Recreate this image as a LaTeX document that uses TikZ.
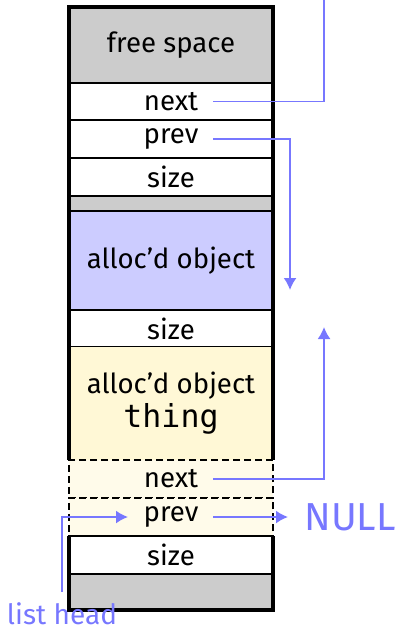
\documentclass[tikz,border=0pt]{standalone}
\usepackage{fontspec}
\setmainfont{Fira Sans}
\setmonofont{DejaVu Sans Mono}
\usepackage{tikz}
\usetikzlibrary{positioning, arrows.meta}
\definecolor{freegray}{RGB}{204,204,204}
\definecolor{allocblue}{RGB}{204,204,255}
\definecolor{thingyellow}{RGB}{255,248,214}
\definecolor{freeyellow}{RGB}{255,251,234}
\definecolor{ptrblue}{RGB}{119,119,255}
\tikzset{cell/.style={draw, line width=0.9pt, minimum width=102pt, inner sep=0pt, outer sep=0pt, font=\fontsize{13.8}{16}\selectfont}}
\tikzset{freecell/.style={cell, dash pattern=on 3.5pt off 2pt, fill=freeyellow}}
\tikzset{frame/.style={line width=1.8pt, line join=miter}}
\tikzset{pointer/.style={ptrblue, line width=0.9pt}}
\tikzset{pointer tip/.style={pointer, -{Latex[length=6pt, width=6.5pt]}}}

\begin{document}
\begin{tikzpicture}[x=0.5pt, y=-0.5pt]
\useasboundingbox (0,0) rectangle (396,630);
\node[cell, fill=freegray, minimum height=38pt, anchor=north] (freeA) at (171,7) {free space};
\node[cell, minimum height=18.5pt, below=0pt of freeA] (nextA) {next};
\node[cell, minimum height=19pt, below=0pt of nextA] (prevA) {prev};
\node[cell, minimum height=19pt, below=0pt of prevA] (sizeA) {size};
\node[cell, fill=freegray, minimum height=7.5pt, below=0pt of sizeA] (gapA) {};
\node[cell, fill=allocblue, minimum height=49.5pt, below=0pt of gapA] (allocA) {alloc'd object};
\node[cell, minimum height=18.5pt, below=0pt of allocA] (sizeB) {size};
\node[cell, draw=none, fill=thingyellow, minimum height=56.5pt, below=0pt of sizeB, align=center] (thing) {alloc'd object\\[1pt]{\ttfamily\fontsize{15.8}{18}\selectfont thing}};
\draw[line width=0.9pt, black!45] (thing.south west) -- ++(0,-76) (thing.south east) -- ++(0,-76);
\node[freecell, minimum height=19pt, below=0pt of thing] (nextB) {next};
\node[freecell, minimum height=19pt, below=0pt of nextB] (prevB) {prev};
\node[cell, minimum height=19pt, below=0pt of prevB] (sizeC) {size};
\node[cell, fill=freegray, minimum height=18pt, below=0pt of sizeC] (gapB) {};
\draw[frame] (nextB.north west) -- (freeA.north west) -- (freeA.north east) -- (nextB.north east);
\draw[frame] (prevB.south west) -- (gapB.south west) -- (gapB.south east) -- (prevB.south east);

\coordinate (nextA-out) at ([xshift=21pt]nextA.center);
\coordinate (prevA-out) at ([xshift=21pt]prevA.center);
\coordinate (nextB-out) at ([xshift=21pt]nextB.center);
\coordinate (prevB-out) at ([xshift=21pt]prevB.center);
\coordinate (prevB-in) at ([xshift=-21.5pt]prevB.center);
\coordinate (top-end) at (324,0);
\coordinate (allocA-in) at (290,290);
\coordinate (thing-in) at (324,327);
\node[ptrblue, font=\fontsize{19.5}{23}\selectfont, anchor=west, inner sep=0pt] (null) at (304,517) {NULL};
\node[ptrblue, font=\fontsize{14}{16}\selectfont, inner sep=0pt, anchor=base] (head) at (62,624) {list head};
\coordinate (head-top) at ([yshift=5pt]head.north);

\draw[pointer] (nextA-out) -| (top-end);
\draw[pointer tip] (prevA-out) -| (allocA-in);
\draw[pointer tip] (nextB-out) -| (thing-in);
\draw[pointer tip] (prevB-out) -- ([xshift=-8pt]null.west);
\draw[pointer tip] (head-top) |- (prevB-in);
\end{tikzpicture}
\end{document}
